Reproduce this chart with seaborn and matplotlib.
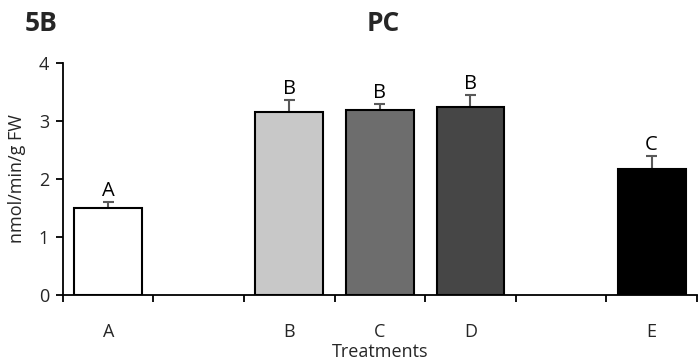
import numpy as np
import pandas as pd
import matplotlib
matplotlib.use("Agg")
import matplotlib.pyplot as plt
import seaborn as sns

# Treatment means, upper standard errors and significance letters
treatments = ["A", "B", "C", "D", "E"]
values = [1.50, 3.16, 3.19, 3.24, 2.17]
errors = [0.10, 0.20, 0.10, 0.20, 0.23]
letters = ["A", "B", "B", "B", "C"]
colors = ["#ffffff", "#c8c8c8", "#6d6d6d", "#464646", "#000000"]

# Category slots along the x axis (empty slots separate the groups)
slots = ["A", "gap1", "B", "C", "D", "gap2", "E"]
slot_labels = ["A", "", "B", "C", "D", "", "E"]

sns.set_theme(style="white")
plt.rcParams["font.family"] = ["Open Sans", "DejaVu Sans"]

df = pd.DataFrame({"Treatment": treatments, "Value": values})

fig = plt.figure(figsize=(6.99, 3.64), dpi=100)
ax = fig.add_axes([0.090, 0.190, 0.907, 0.637])

sns.barplot(
    data=df, x="Treatment", y="Value", order=slots,
    hue="Treatment", hue_order=treatments, palette=colors, legend=False,
    width=0.75, edgecolor="black", linewidth=1.5, errorbar=None, ax=ax,
    zorder=2,
)

# One-sided (upper) error bars
pos = np.array([slots.index(t) for t in treatments], dtype=float)
tops = np.array(values) + np.array(errors)
ax.vlines(pos, values, tops, color="#595959", linewidth=1.5, zorder=1)
ax.hlines(tops, pos - 0.06, pos + 0.06, color="#595959", linewidth=1.5, zorder=1)
for p, t, lab in zip(pos, tops, letters):
    ax.text(p, t + 0.02, lab, ha="center", va="bottom", fontsize=14.5, color="black")

ax.set_xlim(-0.5, len(slots) - 0.5)
ax.set_ylim(0, 4)
ax.set_yticks([0, 1, 2, 3, 4])
ax.set_xticks(range(len(slots)))
ax.set_xticklabels(slot_labels)
ax.set_xticks(np.arange(-0.5, len(slots), 1.0), minor=True)
ax.tick_params(axis="x", which="major", length=0, pad=20, bottom=True, labelsize=13)
ax.tick_params(axis="x", which="minor", length=5, width=1.3, color="black",
               direction="out", bottom=True)
ax.tick_params(axis="y", length=5, width=1.3, color="black", direction="out",
               labelsize=13, pad=5, left=True)

for s in ["top", "right"]:
    ax.spines[s].set_visible(False)
for s in ["left", "bottom"]:
    ax.spines[s].set_color("black")
    ax.spines[s].set_linewidth(1.3)

ax.set_xlabel("Treatments", fontsize=13, labelpad=2)
ax.set_ylabel("nmol/min/g FW", fontsize=13, labelpad=9)

fig.text(0.035, 0.935, "5B", fontsize=19, fontweight="bold", ha="left", va="center")
fig.text(0.548, 0.935, "PC", fontsize=19, fontweight="bold", ha="center", va="center")

fig.savefig("out.png", dpi=100)
